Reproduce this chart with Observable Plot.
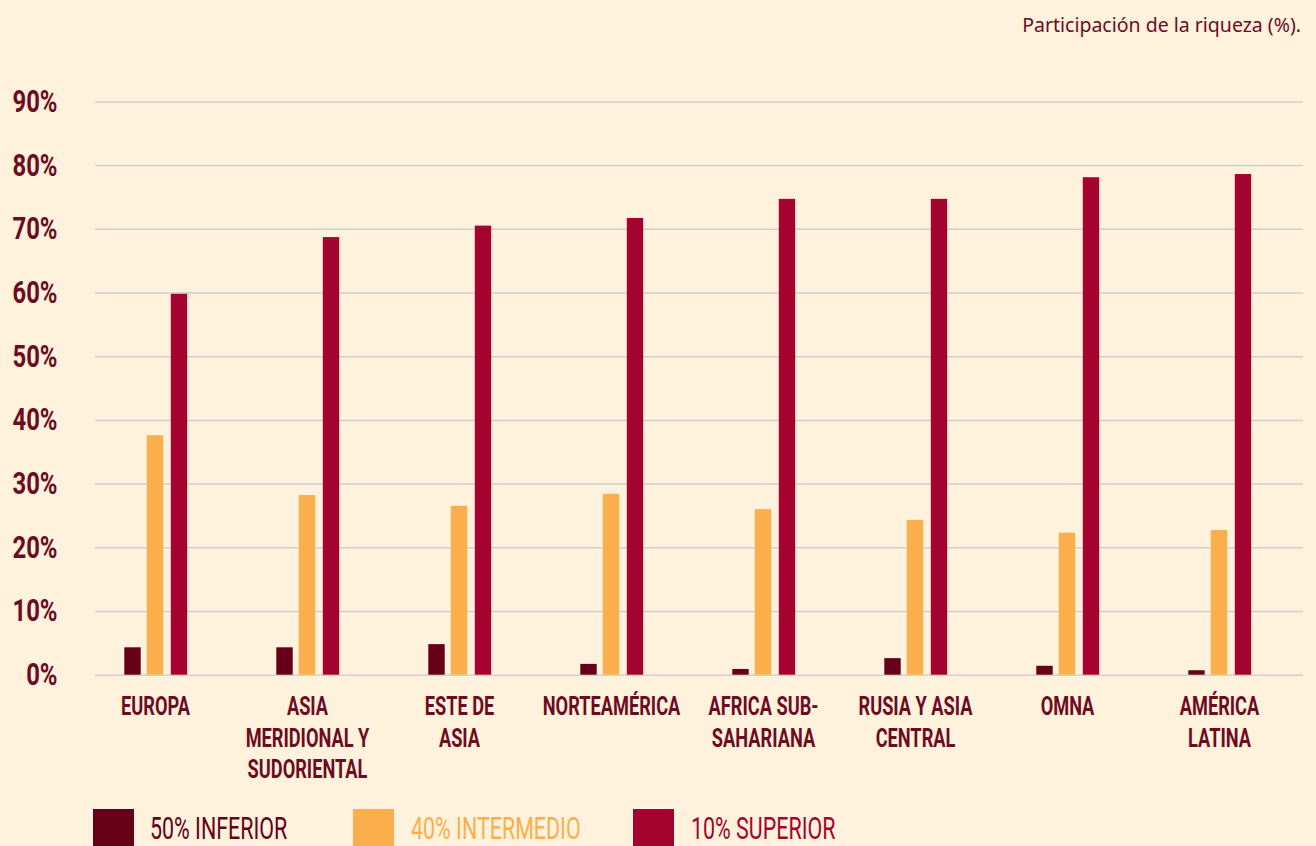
<!DOCTYPE html>
<html>
<head>
<meta charset="utf-8">
<script src="https://cdn.jsdelivr.net/npm/d3@7"></script>
<script src="https://cdn.jsdelivr.net/npm/@observablehq/plot@0.6"></script>
<style>
  html, body { margin: 0; padding: 0; background: #FEF2DC; overflow: hidden; width: 1316px; height: 846px; }
  #title { height: 50px; line-height: 50px; text-align: right; padding-right: 15px; font-family: "Noto Sans", "Open Sans", sans-serif; font-size: 19.5px; color: #6D0B1F; }
  #legend { position: relative; height: 46px; }
  .sw { position: absolute; top: 9px; width: 41px; height: 37px; }
  .lt { position: absolute; top: 11px; font-family: Roboto, sans-serif; font-size: 32px; line-height: 34px; white-space: nowrap; transform-origin: 0 50%; }
</style>
</head>
<body>
<div id="title">Participación de la riqueza (%).</div>
<div id="chart"></div>
<div id="legend"></div>
<script>
const regions = ["EUROPA", "ASIA MERIDIONAL Y SUDORIENTAL", "ESTE DE ASIA", "NORTEAMÉRICA", "AFRICA SUB-SAHARIANA", "RUSIA Y ASIA CENTRAL", "OMNA", "AMÉRICA LATINA"];
const regionLabels = ["EUROPA", "ASIA\nMERIDIONAL Y\nSUDORIENTAL", "ESTE DE\nASIA", "NORTEAMÉRICA", "AFRICA SUB-\nSAHARIANA", "RUSIA Y ASIA\nCENTRAL", "OMNA", "AMÉRICA\nLATINA"];
const series = ["50% INFERIOR", "40% INTERMEDIO", "10% SUPERIOR"];
const inferior = [4.3, 4.3, 4.8, 1.7, 0.9, 2.6, 1.4, 0.7];
const intermedio = [37.6, 28.2, 26.5, 28.4, 26.0, 24.3, 22.3, 22.7];
const superior = [59.8, 68.7, 70.5, 71.7, 74.7, 74.7, 78.1, 78.6];
const yTicks = [0, 10, 20, 30, 40, 50, 60, 70, 80, 90];
const colors = ["#660018", "#FBAE4C", "#A4032F"];
const textColor = "#6D0B1F";

const values = [inferior, intermedio, superior];
const rows = [];
series.forEach((s, j) => regions.forEach((r, i) => rows.push({region: r, serie: s, value: values[j][i]})));

const offsets = [-22.5, 0, 24];
const inset = (152.6 - 17) / 2;

const bars = series.map((s, j) => Plot.barY(rows.filter(d => d.serie === s), {
  x: "region", y: "value", fill: colors[j], insetLeft: inset, insetRight: inset, dx: offsets[j]
}));

const chart = Plot.plot({
  width: 1316,
  height: 750,
  marginTop: 51.4,
  marginBottom: 125.3,
  marginLeft: 95,
  marginRight: 13,
  style: { background: "transparent", color: textColor, overflow: "visible" },
  x: { type: "band", domain: regions, padding: 0, range: [77.2, 1297.8], axis: null },
  y: { domain: [0, 90], axis: null },
  marks: [
    Plot.gridY(yTicks, { stroke: "#cfcfcf", strokeOpacity: 1, strokeWidth: 1.5 }),
    ...bars,
    Plot.axisY(yTicks, {
      label: null, tickSize: 0, tickPadding: 38, tickFormat: d => d + "%",
      fontSize: 31, fontWeight: 700, fontFamily: "Roboto", fill: textColor
    }),
    Plot.axisX(regions, {
      label: null, tickSize: 0, tickPadding: 18, tickFormat: r => regionLabels[regions.indexOf(r)],
      lineHeight: 1.2, fontSize: 26, fontWeight: 700, fontFamily: "Roboto", fill: textColor
    })
  ]
});
document.getElementById("chart").appendChild(chart);

// condense axis text horizontally (no condensed font installed)
function condense(selector, sx) {
  chart.querySelectorAll(selector).forEach(t => {
    let tr = t.getAttribute("transform");
    if (!tr) {
      const x = t.getAttribute("x") || 0, y = t.getAttribute("y") || 0;
      t.removeAttribute("x"); t.removeAttribute("y");
      tr = `translate(${x},${y})`;
    }
    t.setAttribute("transform", tr + ` scale(${sx},1)`);
  });
}
condense('g[aria-label="y-axis tick label"] text', 0.77);
condense('g[aria-label="x-axis tick label"] text', 0.70);

const legend = document.getElementById("legend");
const swLeft = [93, 353, 633];
const txtLeft = [150, 411, 691];
series.forEach((s, j) => {
  const sw = document.createElement("div");
  sw.className = "sw"; sw.style.left = swLeft[j] + "px"; sw.style.background = colors[j];
  legend.appendChild(sw);
  const t = document.createElement("div");
  t.className = "lt"; t.style.left = txtLeft[j] + "px"; t.style.color = colors[j];
  t.style.transform = "scaleX(0.67)";
  t.textContent = s;
  legend.appendChild(t);
});
</script>
</body>
</html>
